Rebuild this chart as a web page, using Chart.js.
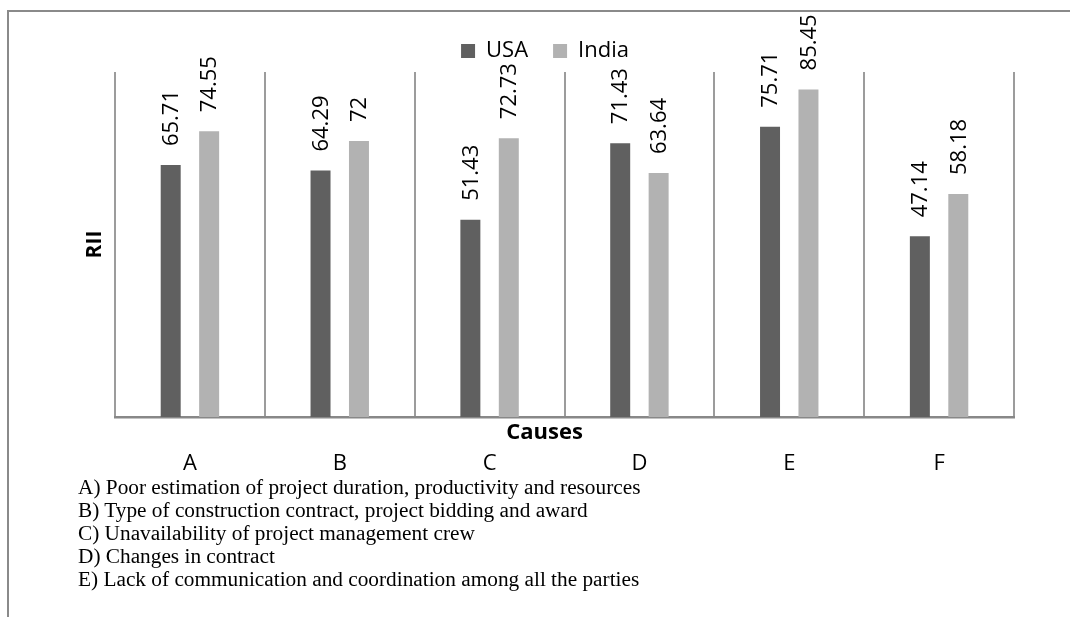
<!DOCTYPE html>
<html>
<head>
<meta charset="utf-8">
<script src="https://cdn.jsdelivr.net/npm/chart.js@4"></script>
<style>
  html, body { margin: 0; padding: 0; background: #ffffff; }
  #wrap { position: relative; width: 1070px; height: 617px; overflow: hidden; }
  #frame { position: absolute; left: 7px; top: 10px; right: 0; bottom: 0;
           border-top: 2px solid #8a8a8a; border-left: 2px solid #8a8a8a; }
  canvas { position: absolute; left: 0; top: 0; }
  #notes { position: absolute; left: 78px; top: 476px; font-family: 'Liberation Serif', 'Times New Roman', serif;
           font-size: 21.3px; line-height: 23px; color: #000; white-space: nowrap; }
</style>
</head>
<body>
<div id="wrap">
  <div id="frame"></div>
  <canvas id="c" width="1070" height="617" style="width:1070px;height:617px"></canvas>
  <div id="notes"></div>
</div>
<script>
// Causes of delay compared by Relative Importance Index
const categories = ['A', 'B', 'C', 'D', 'E', 'F'];
const usaValues = [65.71, 64.29, 51.43, 71.43, 75.71, 47.14];
const indiaValues = [74.55, 72, 72.73, 63.64, 85.45, 58.18];
const causeNotes = [
  'A) Poor estimation of project duration, productivity and resources',
  'B) Type of construction contract, project bidding and award',
  'C) Unavailability of project management crew',
  'D) Changes in contract',
  'E) Lack of communication and coordination among all the parties'
];

const notesEl = document.getElementById('notes');
causeNotes.forEach(t => {
  const d = document.createElement('div');
  d.textContent = t;
  notesEl.appendChild(d);
});

const FONT = "'Open Sans', 'DejaVu Sans', sans-serif";

// rotated value labels above each bar
const valueLabels = {
  id: 'valueLabels',
  afterDatasetsDraw(chart) {
    const ctx = chart.ctx;
    ctx.save();
    ctx.font = '22px ' + FONT;
    ctx.fillStyle = '#000';
    ctx.textAlign = 'left';
    ctx.textBaseline = 'middle';
    chart.data.datasets.forEach((ds, i) => {
      chart.getDatasetMeta(i).data.forEach((bar, j) => {
        ctx.save();
        ctx.translate(bar.x, bar.y - 19);
        ctx.rotate(-Math.PI / 2);
        ctx.fillText(String(ds.data[j]), 0, 1);
        ctx.restore();
      });
    });
    ctx.restore();
  }
};

// x-axis title placed between the axis line and the category labels
const causesTitle = {
  id: 'causesTitle',
  afterDraw(chart) {
    const ctx = chart.ctx;
    const a = chart.chartArea;
    ctx.save();
    ctx.font = 'bold 22px ' + FONT;
    ctx.fillStyle = '#000';
    ctx.textAlign = 'center';
    ctx.textBaseline = 'middle';
    ctx.fillText('Causes', (a.left + a.right) / 2 - 20, a.bottom + 16);
    ctx.restore();
  }
};

new Chart(document.getElementById('c'), {
  type: 'bar',
  data: {
    labels: categories,
    datasets: [
      { label: 'USA', data: usaValues, backgroundColor: '#606060',
        barPercentage: 0.52, categoryPercentage: 0.513 },
      { label: 'India', data: indiaValues, backgroundColor: '#b2b2b2',
        barPercentage: 0.52, categoryPercentage: 0.513 }
    ]
  },
  options: {
    responsive: false,
    animation: false,
    devicePixelRatio: 1,
    layout: { padding: { top: 15, right: 56, bottom: 140, left: 76 } },
    plugins: {
      legend: {
        position: 'top',
        labels: {
          boxWidth: 14, boxHeight: 14, padding: 25,
          color: '#000', font: { family: FONT, size: 22 }
        }
      },
      tooltip: { enabled: false }
    },
    scales: {
      x: {
        offset: true,
        grid: { display: true, offset: true, drawTicks: false, color: '#9c9c9c', lineWidth: 2 },
        border: { display: true, color: '#888888', width: 2.5 },
        ticks: { color: '#000', padding: 34, font: { family: FONT, size: 22 } },
        afterFit(scale) { scale.height = 60; }
      },
      y: {
        min: 0, max: 90,
        grid: { display: false },
        border: { display: false },
        ticks: { display: false },
        title: { display: true, text: 'RII', color: '#000',
                 font: { family: FONT, size: 21, weight: 'bold' }, padding: { top: 6, bottom: 0 } },
        afterFit(scale) { scale.width = 39; }
      }
    }
  },
  plugins: [valueLabels, causesTitle]
});
</script>
</body>
</html>
